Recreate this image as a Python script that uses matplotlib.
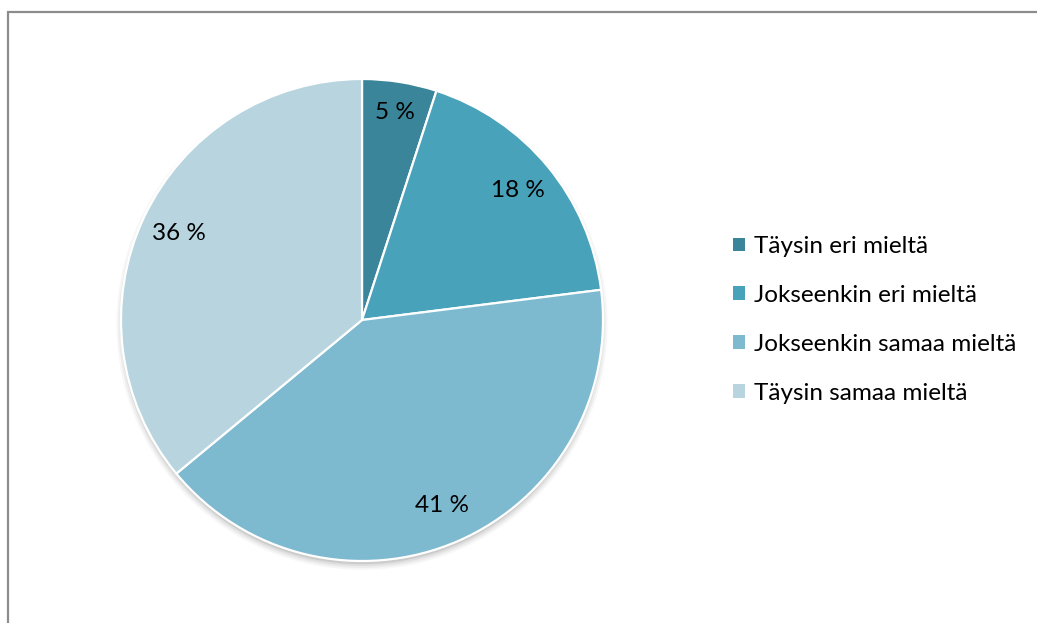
import matplotlib
matplotlib.use("Agg")
import matplotlib.pyplot as plt
import numpy as np
from matplotlib.patches import Rectangle, Circle, Patch

categories = ["Täysin eri mieltä", "Jokseenkin eri mieltä",
              "Jokseenkin samaa mieltä", "Täysin samaa mieltä"]
shares = [5, 18, 41, 36]
labels = ["5 %", "18 %", "41 %", "36 %"]
colors = ["#3A8599", "#48A2BA", "#7DB9CF", "#B7D4DF"]

plt.rcParams["font.family"] = ["Lato", "DejaVu Sans"]

W, H = 1037, 623
fig = plt.figure(figsize=(W / 100, H / 100), dpi=100)

# chart-area frame (top and left edges visible)
fig.patches.append(Rectangle((7.5 / W, -0.05), 1.2, (H - 11.5) / H + 0.05,
                             transform=fig.transFigure, fill=False,
                             edgecolor="#8C8C8C", linewidth=1.6))

cx, cy, r = 362, 320, 241
ax = fig.add_axes([(cx - r) / W, (H - cy - r) / H, 2 * r / W, 2 * r / H])
ax.axis("off")

wedges, _ = ax.pie(shares, colors=colors, startangle=90, counterclock=False,
                   radius=1.0, center=(0, 0), frame=False,
                   wedgeprops=dict(edgecolor="white", linewidth=1.6))
for w in wedges:
    w.set_zorder(2)

# soft drop shadow under the pie
for i, a in enumerate([0.04, 0.06, 0.08, 0.12]):
    ax.add_patch(Circle((0.0, -0.018), 0.995 + 0.008 * (3 - i), color="#444444",
                        alpha=a, lw=0, zorder=0, clip_on=False))

ax.set_xlim(-1, 1)
ax.set_ylim(-1, 1)
ax.set_aspect("equal")

total = sum(shares)
start = 90.0
for v, lab in zip(shares, labels):
    mid = np.deg2rad(start - 360.0 * v / total / 2)
    d = 0.87 if v < 8 else 0.84
    ax.text(d * np.cos(mid), d * np.sin(mid), lab, ha="center", va="center",
            fontsize=17.5, color="black", zorder=3)
    start -= 360.0 * v / total

handles = [Patch(facecolor=c, edgecolor="none") for c in colors]
fig.legend(handles, categories, loc="center left",
           bbox_to_anchor=(733 / W, (H - 320) / H), frameon=False,
           fontsize=17.5, handlelength=0.5, handleheight=0.5,
           handletextpad=0.35, labelspacing=1.15, borderaxespad=0,
           borderpad=0)

fig.savefig("out.png", dpi=100)
